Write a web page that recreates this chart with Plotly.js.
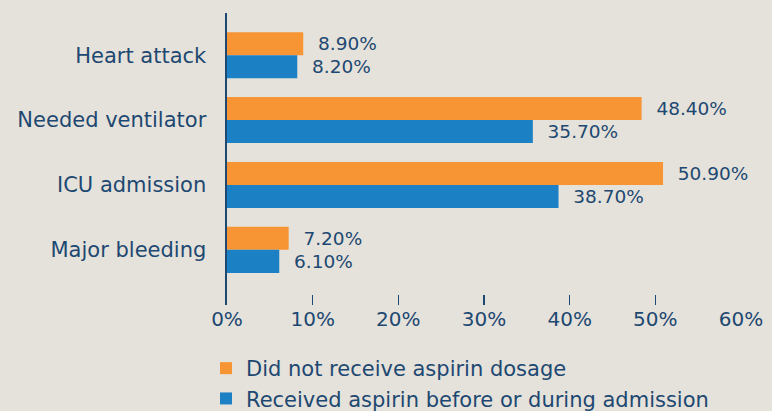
<!DOCTYPE html>
<html><head><meta charset="utf-8">
<script src="https://cdn.plot.ly/plotly-3.0.1.min.js"></script>
<style>html,body{margin:0;padding:0;background:#E5E2DB;}</style>
</head><body>
<div id="chart" style="width:772px;height:411px;"></div>
<script>
const categories = ["Heart attack", "Needed ventilator", "ICU admission", "Major bleeding"];
const seriesNames = ["Did not receive aspirin dosage", "Received aspirin before or during admission"];
const noAspirin = [8.9, 48.4, 50.9, 7.2];
const aspirin = [8.2, 35.7, 38.7, 6.1];
const tickVals = [0, 10, 20, 30, 40, 50, 60];
const tickText = ["0%", "10%", "20%", "30%", "40%", "50%", "60%"];

const navy = "#1D4871";
const font = "DejaVu Sans";

function trace(name, vals, color) {
  return {
    type: "bar", orientation: "h", name: name,
    y: categories, x: vals,
    marker: {color: color},
    texttemplate: "\u00a0\u00a0%{x:.2f}%",
    textposition: "outside",
    cliponaxis: false,
    textfont: {family: font, size: 18.5, color: navy},
    hoverinfo: "none"
  };
}

const data = [trace(seriesNames[0], noAspirin, "#F79535"), trace(seriesNames[1], aspirin, "#1B80C4")];

const layout = {
  width: 772, height: 411,
  paper_bgcolor: "#E5E2DB", plot_bgcolor: "#E5E2DB",
  margin: {l: 227, r: 31, t: 13, b: 106, autoexpand: false},
  barmode: "group", bargap: 0.29, bargroupgap: 0,
  font: {family: font, color: navy},
  xaxis: {
    range: [0, 60], tickvals: tickVals, ticktext: tickText,
    showgrid: false, zeroline: false, showline: false, automargin: false,
    ticks: "inside", ticklen: 10, tickwidth: 1.5, tickcolor: navy,
    tickangle: 0,
    tickfont: {family: font, size: 20, color: navy}
  },
  yaxis: {
    type: "category", categoryorder: "array", categoryarray: categories,
    range: [3.85, -0.65], automargin: false,
    showgrid: false, zeroline: false,
    showline: true, linecolor: navy, linewidth: 2.5,
    ticks: "", ticklabelstandoff: 14,
    tickfont: {family: font, size: 21, color: navy}
  },
  showlegend: true,
  legend: {
    xref: "container", yref: "container",
    x: 206/772, y: 1 - 348/411, xanchor: "left", yanchor: "top",
    orientation: "v", bgcolor: "rgba(0,0,0,0)",
    font: {family: font, size: 21, color: navy},
    traceorder: "grouped", tracegroupgap: 5
  }
};

Plotly.newPlot("chart", data, layout, {displayModeBar: false, staticPlot: true});
</script>
</body></html>
